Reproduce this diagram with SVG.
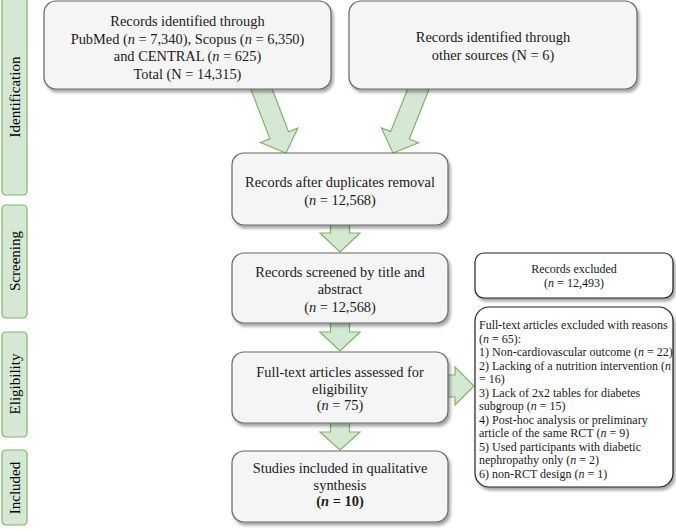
<svg xmlns="http://www.w3.org/2000/svg" width="676" height="529" viewBox="0 0 676 529">
<defs>
<filter id="sh" x="-10%" y="-10%" width="125%" height="130%">
<feDropShadow dx="2" dy="3" stdDeviation="1.5" flood-color="#000" flood-opacity="0.35"/>
</filter>
<style>
text{font-family:"Liberation Serif","Times New Roman",serif;fill:#1a1a1a}
.m{font-size:14.4px;text-anchor:middle}
.s{font-size:12px;text-anchor:middle}
.l{font-size:12px}
.side rect{fill:#d5e8d4;stroke:#82b366;stroke-width:1.2}
.side text{font-size:15px;text-anchor:middle;fill:#000}
.box{fill:#f5f5f5;stroke:#666;stroke-width:1.2;filter:url(#sh)}
.wbox{fill:#fff;stroke:#222;stroke-width:1.2;filter:url(#sh)}
.arr{fill:#d5e8d4;stroke:#82b366;stroke-width:1.2}
</style>
</defs>
<g id="stages" class="side">
<g id="stage-identification"><rect x="2" y="-4" width="25" height="199" rx="4"/><text transform="translate(20,97) rotate(-90)">Identification</text></g>
<g id="stage-screening"><rect x="2" y="205" width="25" height="113" rx="4"/><text transform="translate(20,261) rotate(-90)">Screening</text></g>
<g id="stage-eligibility"><rect x="2" y="332" width="25" height="105" rx="4"/><text transform="translate(20,384) rotate(-90)">Eligibility</text></g>
<g id="stage-included"><rect x="2" y="450" width="25" height="75" rx="4"/><text transform="translate(20,488) rotate(-90)">Included</text></g>
</g>
<g id="connectors">
<polygon class="arr" points="248.7,83.6 267.3,76.4 288.5,131.7 297.9,128.1 286,153 260.5,142.5 269.9,138.9"/>
<polygon class="arr" points="412.7,76.3 431.3,83.7 409.3,139 418.6,142.7 393,153 381.4,127.9 390.7,131.6"/>
<polygon class="arr" points="330.5,218 349.5,218 349.5,233 360,233 340,252 320,233 330.5,233"/>
<polygon class="arr" points="330.5,316 349.5,316 349.5,332 360,332 340,351 320,332 330.5,332"/>
<polygon class="arr" points="330.5,416 349.5,416 349.5,432 360,432 340,450 320,432 330.5,432"/>
<polygon class="arr" points="440,375 455,375 455,367 474,386 455,405 455,397 440,397"/>
</g>
<g id="n1"><rect class="box" x="44" y="1" width="287" height="88" rx="12"/>
<text class="m" x="187.5" y="26">Records identified through</text>
<text class="m" x="187.5" y="43.5">PubMed (<tspan font-style="italic">n</tspan> = 7,340), Scopus (<tspan font-style="italic">n</tspan> = 6,350)</text>
<text class="m" x="187.5" y="61">and CENTRAL (<tspan font-style="italic">n</tspan> = 625)</text>
<text class="m" x="187.5" y="78.5">Total (N = 14,315)</text></g>
<g id="n2"><rect class="box" x="349" y="1" width="288" height="88" rx="12"/>
<text class="m" x="493" y="42">Records identified through</text>
<text class="m" x="493" y="60">other sources (N = 6)</text></g>
<g id="n3"><rect class="box" x="232" y="153" width="216" height="72" rx="12"/>
<text class="m" x="340" y="187">Records after duplicates removal</text>
<text class="m" x="340" y="205">(<tspan font-style="italic">n</tspan> = 12,568)</text></g>
<g id="n4"><rect class="box" x="232" y="253" width="216" height="70" rx="12"/>
<text class="m" x="340" y="277">Records screened by title and</text>
<text class="m" x="340" y="294">abstract</text>
<text class="m" x="340" y="312">(<tspan font-style="italic">n</tspan> = 12,568)</text></g>
<g id="n5"><rect class="box" x="232" y="352" width="216" height="71" rx="12"/>
<text class="m" x="340" y="377">Full-text articles assessed for</text>
<text class="m" x="340" y="394">eligibility</text>
<text class="m" x="340" y="410">(<tspan font-style="italic">n</tspan> = 75)</text></g>
<g id="n6"><rect class="box" x="232" y="451" width="216" height="71" rx="12"/>
<text class="m" x="340" y="473">Studies included in qualitative</text>
<text class="m" x="340" y="490">synthesis</text>
<text class="m" x="340" y="506" font-weight="bold">(<tspan font-style="italic">n</tspan> = 10)</text></g>
<g id="n7"><rect class="wbox" x="475" y="253" width="198" height="45" rx="9"/>
<text class="s" x="574" y="273">Records excluded</text>
<text class="s" x="574" y="286.5">(<tspan font-style="italic">n</tspan> = 12,493)</text></g>
<g id="n8"><rect class="wbox" x="475" y="307" width="198" height="180" rx="14"/>
<text class="l" x="479" y="329">Full-text articles excluded with reasons</text>
<text class="l" x="479" y="342.5">(<tspan font-style="italic">n</tspan> = 65):</text>
<text class="l" x="479" y="356">1) Non-cardiovascular outcome (<tspan font-style="italic">n</tspan> = 22)</text>
<text class="l" x="479" y="369.5">2) Lacking of a nutrition intervention (<tspan font-style="italic">n</tspan></text>
<text class="l" x="479" y="383">= 16)</text>
<text class="l" x="479" y="396.5">3) Lack of 2x2 tables for diabetes</text>
<text class="l" x="479" y="410">subgroup (<tspan font-style="italic">n</tspan> = 15)</text>
<text class="l" x="479" y="423.5">4) Post-hoc analysis or preliminary</text>
<text class="l" x="479" y="437">article of the same RCT  (<tspan font-style="italic">n</tspan> = 9)</text>
<text class="l" x="479" y="450.5">5) Used participants with diabetic</text>
<text class="l" x="479" y="464">nephropathy only (<tspan font-style="italic">n</tspan> = 2)</text>
<text class="l" x="479" y="477.5">6) non-RCT design (<tspan font-style="italic">n</tspan> = 1)</text></g>
</svg>
